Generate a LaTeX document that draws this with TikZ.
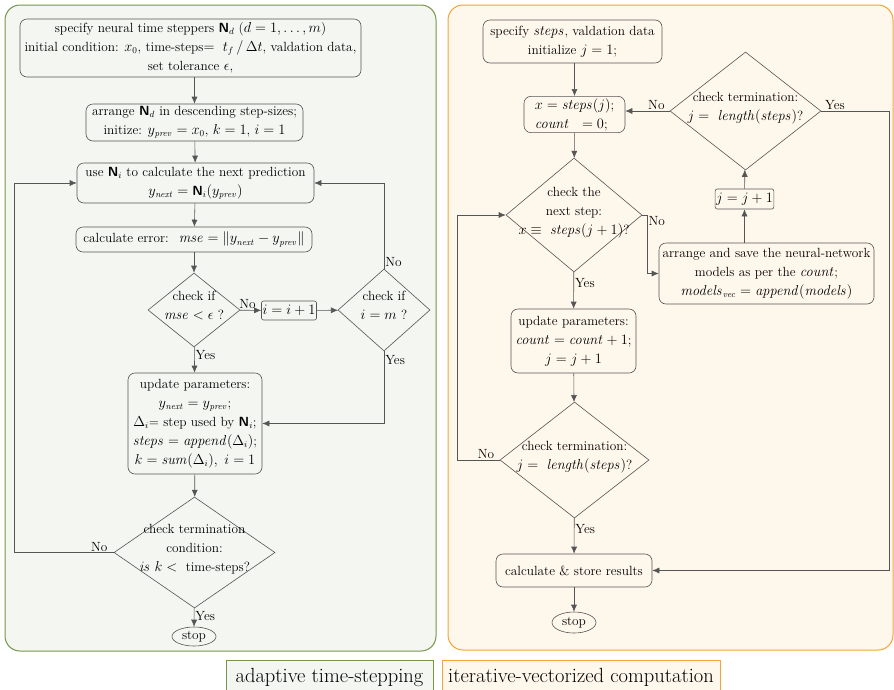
\documentclass[tikz,border=0pt]{standalone}
\usetikzlibrary{shapes.geometric,arrows.meta}
\definecolor{stepgreen}{HTML}{769646}
\definecolor{stepfill}{HTML}{F4F6F1}
\definecolor{vecorange}{HTML}{F2A43A}
\definecolor{vecfill}{HTML}{FEF7EC}
\definecolor{linegray}{HTML}{555555}
\newcommand{\Nnet}{\mbox{\sffamily\bfseries N}}
\newcommand{\dtext}[1]{\makebox[0pt]{\smash{\begin{tabular}{@{}c@{}}#1\end{tabular}}}}
\begin{document}
\begin{tikzpicture}[x=1pt,y=-1pt,
  font={\fontsize{13.3}{19}\selectfont},
  box/.style={draw=linegray,line width=0.6pt,rounded corners=7pt,align=center,inner sep=2pt},
  dec/.style={draw=linegray,line width=0.6pt,diamond,inner sep=0pt},
  halt/.style={draw=linegray,line width=0.6pt,ellipse,inner sep=0pt},
  line/.style={draw=linegray,line width=0.6pt,-{Latex[length=7pt,width=6pt]}},
  lbl/.style={inner sep=1pt}]
\useasboundingbox (0,0) rectangle (894,689);
\draw[stepgreen,fill=stepfill,line width=1pt,rounded corners=15pt] (5,5) rectangle (436,651);
\draw[vecorange,fill=vecfill,line width=1pt,rounded corners=15pt] (448,5) rectangle (893,650);

% adaptive time-stepping
\node[box,minimum width=341,minimum height=58] (spec) at (190.5,48)
  {specify neural time steppers $\Nnet_d$ ($d=1,\ldots,m$)\\
   initial condition: $x_0$, time-steps$=\ t_f\,/\,\Delta t$, valdation data,\\
   set tolerance $\epsilon$,};
\node[box,minimum width=217,minimum height=37] (arr) at (194.5,122.5)
  {arrange $\Nnet_d$ in descending step-sizes;\\
   initize: $y_{\mathit{prev}}=x_0$, $k=1$, $i=1$};
\node[box,minimum width=237,minimum height=40] (pred) at (195.5,183)
  {use $\Nnet_i$ to calculate the next prediction\\
   $y_{\mathit{next}}=\Nnet_i(y_{\mathit{prev}})$};
\node[box,minimum width=236,minimum height=25] (err) at (194,239.5)
  {calculate error: \ $\mathit{mse}=\|y_{\mathit{next}}-y_{\mathit{prev}}\|$};
\node[dec,minimum width=92,minimum height=74] (chk1) at (194,310)
  {\dtext{check if\\ $\mathit{mse}<\epsilon$ ?}};
\node[box,rounded corners=2pt,minimum width=54,minimum height=19,inner sep=1pt] (inc) at (289,310.5) {$i=i+1$};
\node[dec,minimum width=92,minimum height=82] (chk2) at (384,310)
  {\dtext{check if\\ $i=m$ ?}};
\node[box,minimum width=134,minimum height=101] (upd) at (195,423.5)
  {update parameters:\\
   $y_{\mathit{next}}=y_{\mathit{prev}}$;\\
   $\Delta_i$= step used by $\Nnet_i$;\\
   $\mathit{steps}=\mathit{append}(\Delta_i)$;\\
   $k=\mathit{sum}(\Delta_i),\ i=1$};
\node[dec,minimum width=161,minimum height=111] (term) at (194.5,552.5)
  {\dtext{check termination\\ condition:\\ $\mathit{is}\ k<{}$ time-steps?}};
\node[halt,minimum width=44,minimum height=19] (stop) at (194,636.5) {stop};

\draw[line] (arr.north |- spec.south) -- (arr.north);
\draw[line] (arr) -- (pred);
\draw[line] (pred) -- (err);
\draw[line] (err) -- (chk1);
\draw[line] (chk1) -- node[lbl,above,pos=0.35] {No} (inc);
\draw[line] (inc) -- (chk2);
\draw[line] (chk2.north) |- node[lbl,right,pos=0.04] {No} (pred.east);
\draw[line] (chk1) -- node[lbl,right,pos=0.3] {Yes} (upd);
\draw[line] (chk2.south) |- node[lbl,right,pos=0.06] {Yes} (upd.east);
\draw[line] (upd) -- (term);
\draw[line] (term) -- node[lbl,right,pos=0.4] {Yes} (stop);
\draw[line] (term.west) -- node[lbl,above left,pos=0.05] {No} ++(-99,0) |- (pred.west);

% iterative-vectorized computation
\node[box,minimum width=179,minimum height=43] (rspec) at (572.5,41.5)
  {specify $\mathit{steps}$, valdation data\\ initialize $j=1$;};
\node[box,minimum width=101,minimum height=35,align=left] (rinit) at (574.5,114.5)
  {$x=\mathit{steps}(j)$;\\ $\mathit{count}\ \ =0$;};
\node[dec,minimum width=136,minimum height=114] (rchk) at (574,215)
  {\dtext{check the\\ next step:\\ $x\equiv\ \mathit{steps}(j+1)$?}};
\node[dec,minimum width=151,minimum height=118] (rtop) at (745.5,111)
  {\dtext{check termination:\\ $j=\ \mathit{length}(\mathit{steps})$?}};
\node[box,rounded corners=2pt,minimum width=55,minimum height=20,inner sep=1pt] (rinc) at (744.5,199) {$j=j+1$};
\node[box,minimum width=215,minimum height=61] (rsave) at (766.5,273.5)
  {arrange and save the neural-network\\
   models as per the $\mathit{count}$;\\
   $\mathit{models}_{\mathit{vec}}=\mathit{append}(\mathit{models})$};
\node[box,minimum width=125,minimum height=64] (rupd) at (573.5,341)
  {update parameters:\\ $\mathit{count}=\mathit{count}+1$;\\ $j=j+1$};
\node[dec,minimum width=149,minimum height=116] (rterm) at (574.5,460)
  {\dtext{check termination:\\ $j=\ \mathit{length}(\mathit{steps})$?}};
\node[box,minimum width=156,minimum height=33] (rcalc) at (574,570.5) {calculate \& store results};
\node[halt,minimum width=44,minimum height=21] (rstop) at (574,622.5) {stop};

\draw[line] (rinit.north |- rspec.south) -- (rinit.north);
\draw[line] (rinit) -- (rchk);
\draw[line] (rchk) -- node[lbl,right,pos=0.3] {Yes} (rupd);
\draw[line] (rchk.east) -- ++(5,0) node[lbl,below right] {No} |- (rsave.west);
\draw[line] (rinc.south |- rsave.north) -- (rinc.south);
\draw[line] (rinc) -- (rtop);
\draw[line] (rtop.west) -- node[lbl,above,pos=0.3] {No} (rinit.east |- rtop.west);
\draw[line] (rtop.east) -- node[lbl,above,pos=0.2] {Yes} ++(68,0) |- (rcalc.east);
\draw[line] (rupd) -- (rterm);
\draw[line] (rterm.west) -- node[lbl,above left,pos=0.1] {No} ++(-42,0) |- (rchk.west);
\draw[line] (rterm) -- node[lbl,right,pos=0.3] {Yes} (rcalc);
\draw[line] (rcalc) -- (rstop);

% legend
\node[draw=stepgreen,fill=stepfill,line width=0.8pt,minimum width=207,minimum height=34,font={\fontsize{20.5}{24}\selectfont}] (leg1) at (329.5,677) {adaptive time-stepping};
\node[draw=vecorange,fill=vecfill,line width=0.8pt,minimum width=278,minimum height=34,font={\fontsize{20.5}{24}\selectfont}] (leg2) at (581,677) {iterative-vectorized computation};
\end{tikzpicture}
\end{document}
